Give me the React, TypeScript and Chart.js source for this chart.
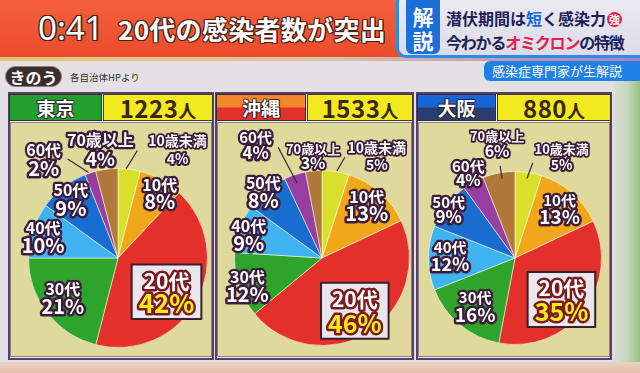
import React, { useEffect, useRef } from 'react';
import { Chart, registerables } from 'chart.js';
Chart.register(...registerables);

// ---- data ----
const categories = ['10歳未満', '10代', '20代', '30代', '40代', '50代', '60代', '70歳以上'];
const tokyoValues = [4, 8, 42, 21, 10, 9, 2, 4];
const okinawaValues = [5, 13, 46, 12, 9, 8, 4, 3];
const osakaValues = [5, 13, 35, 16, 12, 9, 4, 6];
const prefectures = ['東京', '沖縄', '大阪'];
const totals = [1223, 1533, 880];

const sliceColors = ['#d9e02c', '#f0a81a', '#e3302b', '#2ea42b', '#3fb3ef', '#1a6dd0', '#973fa0', '#b0793a'];
const FONT = '"Noto Sans CJK JP", "Noto Sans", sans-serif';

type LabelCfg = {
  f: number; d?: number; ns?: number; ps?: number; gap?: number; box?: boolean;
  leader?: [number, number, number, number];
};

const tokyoLabels: LabelCfg[] = [
  { f: 1.38, d: 21.6, ns: 14, ps: 14, gap: 18, leader: [1.0, -2, 1.22, 3] },
  { f: 0.86, d: 4, gap: 17 },
  { f: 0.66, d: 6, box: true, ns: 21, ps: 26, gap: 21 },
  { f: 0.76, d: 2, gap: 17 },
  { f: 0.87, d: -2 },
  { f: 0.84, d: -1 },
  { f: 1.38, d: -19, leader: [1.01, -1, 1.24, -9] },
  { f: 1.23, d: -2, ps: 19 },
];
const okinawaLabels: LabelCfg[] = [
  { f: 1.32, d: 19.3, ns: 14, ps: 14, gap: 17, leader: [1.01, 0.7, 1.18, 3.8] },
  { f: 0.79, d: -1, gap: 17 },
  { f: 0.71, d: 0.5, box: true, ns: 21, ps: 25, gap: 23 },
  { f: 0.91, d: -2.5 },
  { f: 0.88, d: -2, gap: 17 },
  { f: 1.01, d: -2, gap: 17 },
  { f: 1.5, d: -12.4, ns: 15, ps: 17, gap: 15, leader: [0.9, -0.4, 1.36, -3.6] },
  { f: 1.17, d: 0.4, ns: 13, ps: 16, gap: 13 },
];
const osakaLabels: LabelCfg[] = [
  { f: 1.29, d: 15.7, ns: 13, ps: 14, gap: 16, leader: [0.93, -0.5, 1.12, 1.6] },
  { f: 0.77, d: 0.6, ns: 15, ps: 19, gap: 17 },
  { f: 0.72, d: 4, box: true, ns: 21, ps: 25, gap: 22 },
  { f: 0.72, d: 0.2, ns: 15, ps: 19, gap: 18 },
  { f: 0.75, d: 1.8, ns: 15, ps: 18, gap: 17 },
  { f: 0.95, d: -1.6, ns: 15, ps: 17, gap: 15 },
  { f: 1.12, d: 0, ns: 15, ps: 16, gap: 14 },
  { f: 1.34, d: 1.9, ns: 13, ps: 16, gap: 14, leader: [0.93, 1.6, 1.08, 1.6] },
];

function outlined(ctx: CanvasRenderingContext2D, text: string, x: number, y: number, size: number, fill: string, stroke: string, lw: number) {
  ctx.font = `bold ${size}px ${FONT}`;
  ctx.lineJoin = 'round';
  ctx.lineWidth = lw;
  ctx.strokeStyle = stroke;
  ctx.strokeText(text, x, y);
  ctx.fillStyle = fill;
  ctx.fillText(text, x, y);
}

const pieLabelPlugin = {
  id: 'pieLabels',
  afterDatasetsDraw(chart: any, _args: any, opts: any) {
    const ctx: CanvasRenderingContext2D = chart.ctx;
    const meta = chart.getDatasetMeta(0);
    const values = chart.data.datasets[0].data as number[];
    const names = chart.data.labels as string[];
    const cfgs: LabelCfg[] = opts.labels || [];
    ctx.save();
    ctx.textAlign = 'center';
    ctx.textBaseline = 'middle';
    meta.data.forEach((el: any, i: number) => {
      const p = el.getProps(['x', 'y', 'startAngle', 'endAngle', 'outerRadius'], true);
      const cfg = { ns: 16, ps: 20, gap: 18, d: 0, ...cfgs[i] } as Required<LabelCfg> & LabelCfg;
      const mid = (p.startAngle + p.endAngle) / 2;
      const pt = (f: number, dd: number) => {
        const a = mid + (dd * Math.PI) / 180;
        return [p.x + Math.cos(a) * f * p.outerRadius, p.y + Math.sin(a) * f * p.outerRadius];
      };
      if (cfg.leader) {
        const [a0x, a0y] = pt(cfg.leader[0], cfg.leader[1]);
        const [a1x, a1y] = pt(cfg.leader[2], cfg.leader[3]);
        ctx.beginPath();
        ctx.moveTo(a0x, a0y);
        ctx.lineTo(a1x, a1y);
        ctx.strokeStyle = '#3a2a3a';
        ctx.lineWidth = 1.2;
        ctx.stroke();
      }
      const [lx, ly] = pt(cfg.f, cfg.d);
      const name = names[i];
      const pct = `${values[i]}%`;
      if (cfg.box) {
        ctx.font = `bold ${cfg.ns}px ${FONT}`;
        const w1 = ctx.measureText(name).width;
        ctx.font = `bold ${cfg.ps}px ${FONT}`;
        const w2 = ctx.measureText(pct).width;
        const w = Math.max(w1, w2) + 14;
        const h = cfg.gap + (cfg.ns + cfg.ps) / 2 + 10;
        ctx.fillStyle = '#e9e7ed';
        ctx.fillRect(lx - w / 2, ly - h / 2, w, h);
        ctx.strokeStyle = '#3a1e2c';
        ctx.lineWidth = 2;
        ctx.strokeRect(lx - w / 2, ly - h / 2, w, h);
        outlined(ctx, name, lx, ly - cfg.gap / 2, cfg.ns, '#ffffff', '#7a1c1e', 5);
        outlined(ctx, pct, lx, ly + cfg.gap / 2 + 1, cfg.ps, '#f7ea1c', '#7a1c1e', 5);
      } else {
        const lw = cfg.ns <= 14 ? 3.5 : 4.5;
        outlined(ctx, name, lx, ly - cfg.gap / 2, cfg.ns, '#ffffff', '#3b1c3d', lw);
        outlined(ctx, pct, lx, ly + cfg.gap / 2, cfg.ps, '#ffffff', '#3b1c3d', lw + 0.5);
      }
    });
    ctx.restore();
  },
};

type PieProps = {
  values: number[]; labels: LabelCfg[]; left: number; top: number; width: number; height: number;
  padding: { left: number; right: number; top: number; bottom: number };
};

function PieCanvas({ values, labels, left, top, width, height, padding }: PieProps) {
  const ref = useRef<HTMLCanvasElement>(null);
  useEffect(() => {
    const chart = new Chart(ref.current as HTMLCanvasElement, {
      type: 'pie',
      data: {
        labels: categories,
        datasets: [{
          data: values,
          backgroundColor: sliceColors,
          borderColor: 'rgba(255,255,235,0.55)',
          borderWidth: 1,
          hoverOffset: 0,
        }],
      },
      options: {
        responsive: false,
        animation: false,
        events: [],
        layout: { padding },
        plugins: {
          legend: { display: false },
          tooltip: { enabled: false },
          // @ts-ignore
          pieLabels: { labels },
        },
      },
      plugins: [pieLabelPlugin as any],
    });
    return () => chart.destroy();
  }, []);
  return (
    <canvas ref={ref} width={width} height={height}
      style={{ position: 'absolute', left, top, width, height }} />
  );
}

const abs = (s: React.CSSProperties): React.CSSProperties => ({ position: 'absolute', ...s });
const outline = (c: string, w = 1.5) =>
  [`${w}px 0 ${c}`, `-${w}px 0 ${c}`, `0 ${w}px ${c}`, `0 -${w}px ${c}`, `${w}px ${w}px ${c}`, `-${w}px ${w}px ${c}`, `${w}px -${w}px ${c}`, `-${w}px -${w}px ${c}`].join(',');

type PanelDef = {
  frameLeft: number; frameWidth: number; nameW: number; nameBg: string;
  areaLeft: number; areaWidth: number;
  values: number[]; labels: LabelCfg[];
  padding: { left: number; right: number; top: number; bottom: number };
};

const panels: PanelDef[] = [
  { frameLeft: 8, frameWidth: 206, nameW: 93, nameBg: '#24a02f', areaLeft: 10, areaWidth: 202,
    values: tokyoValues, labels: tokyoLabels, padding: { left: 18, right: 4, top: 46, bottom: 9 } },
  { frameLeft: 215, frameWidth: 199, nameW: 90, nameBg: 'linear-gradient(180deg,#f2862a 0%,#f2862a 48%,#e2302a 52%,#e2302a 100%)', areaLeft: 217, areaWidth: 195,
    values: okinawaValues, labels: okinawaLabels, padding: { left: 17, right: 2, top: 48, bottom: 11 } },
  { frameLeft: 416, frameWidth: 196, nameW: 79, nameBg: 'linear-gradient(180deg,#1565d6 0%,#1565d6 48%,#2b3d70 52%,#2b3d70 100%)', areaLeft: 418, areaWidth: 192,
    values: osakaValues, labels: osakaLabels, padding: { left: 10, right: 8, top: 49, bottom: 12 } },
];

function Panel({ p, idx }: { p: PanelDef; idx: number }) {
  const inner = p.frameWidth - 4;
  return (
    <>
      <div style={abs({ left: p.frameLeft, top: 92, width: p.frameWidth, height: 268, boxSizing: 'border-box',
        border: '2px solid #5b3d6b', background: '#f1edf1' })} />
      <div style={abs({ left: p.frameLeft + 1, top: 94, width: p.nameW, height: 27, background: p.nameBg,
        boxSizing: 'border-box', border: '1px solid #3a2a30', color: '#fff', fontSize: 19, fontWeight: 700,
        display: 'flex', alignItems: 'center', justifyContent: 'center', textShadow: outline('rgba(40,30,40,0.6)', 1) })}>
        {prefectures[idx]}
      </div>
      <div style={abs({ left: p.frameLeft + 2 + p.nameW, top: 94, width: inner - p.nameW + 1, height: 27, background: '#f3e91f',
        boxSizing: 'border-box', border: '1px solid #4a3a2a', color: '#3a2716', fontWeight: 700,
        display: 'flex', alignItems: 'center', justifyContent: 'center' })}>
        <span style={{ fontSize: 24, letterSpacing: 0.5 }}>{totals[idx]}</span>
        <span style={{ fontSize: 18, marginTop: 4 }}>人</span>
      </div>
      <div style={abs({ left: p.areaLeft, top: 122, width: p.areaWidth, height: 235, boxSizing: 'border-box',
        background: '#dfd99b', border: '1px solid #8d7f86' })} />
      <PieCanvas values={p.values} labels={p.labels} left={p.areaLeft} top={122} width={p.areaWidth} height={235} padding={p.padding} />
    </>
  );
}

export default function App() {
  return (
    <div style={{ position: 'fixed', left: 0, top: 0, width: 640, height: 373, overflow: 'hidden',
      background: '#e3e1e3', fontFamily: FONT }}>
      <style>{'body{margin:0}'}</style>
      {/* right green blur */}
      <div style={abs({ left: 612, top: 60, width: 28, height: 313, background: 'linear-gradient(90deg,#dfe0dc 0%,#c9d9c0 50%,#98c486 100%)' })} />
      {/* bottom strip */}
      <div style={abs({ left: 0, top: 362, width: 640, height: 11, background: 'linear-gradient(180deg,#e9d3c6,#e6bca6)' })} />
      {/* top banner */}
      <div style={abs({ left: 0, top: 0, width: 640, height: 59, background: 'linear-gradient(180deg,#f4603c,#ec4b2b)' })} />
      <div style={abs({ left: 0, top: 57, width: 640, height: 4, background: 'linear-gradient(90deg,#e6c170 0%,#dcc3a8 50%,#b27cc0 100%)' })} />
      <div style={abs({ left: 38, top: 6, fontSize: 33, fontWeight: 400, color: '#fff', textShadow: outline('#3a2a2a', 1.3), lineHeight: '44px', fontFamily: '"Noto Sans", ' + FONT })}>0:41</div>
      <div style={abs({ left: 118, top: 7, fontSize: 26, fontWeight: 700, color: '#fff', textShadow: outline('rgba(70,30,20,0.75)', 1.2), lineHeight: '44px', letterSpacing: 0.3 })}>20代の感染者数が突出</div>
      {/* right box */}
      <div style={abs({ left: 396, top: -8, width: 262, height: 66, boxSizing: 'border-box', background: 'linear-gradient(180deg,#ecebf2,#dcdce8)',
        border: '3px solid #2a8ce8', borderRadius: 10 })} />
      <div style={abs({ left: 406, top: 0, width: 34, height: 54, background: '#1a6fd8', borderRadius: '0 0 6px 6px', color: '#fff',
        fontSize: 21, fontWeight: 700, textAlign: 'center', lineHeight: '24px', paddingTop: 4, boxSizing: 'border-box' })}>
        解<br />説
      </div>
      <div style={abs({ left: 446, top: 8, fontSize: 16, fontWeight: 700, color: '#1c2058', lineHeight: '20px', whiteSpace: 'nowrap' })}>
        潜伏期間は<span style={{ color: '#1466d8' }}>短</span>く感染力
        <span style={{ display: 'inline-block', width: 15, height: 15, borderRadius: 8, background: '#e0204c', color: '#fff', fontSize: 11,
          lineHeight: '15px', textAlign: 'center', marginLeft: 1, verticalAlign: 1 }}>強</span>
      </div>
      <div style={abs({ left: 446, top: 32, fontSize: 16, fontWeight: 700, color: '#1c2058', lineHeight: '20px', letterSpacing: -1.2, whiteSpace: 'nowrap' })}>
        今わかる<span style={{ color: '#e2204e' }}>オミクロン</span>の特徴
      </div>
      <div style={abs({ left: 484, top: 61, width: 170, height: 20, background: '#1f80e6', borderRadius: '6px 0 0 6px', color: '#fff',
        fontSize: 13, lineHeight: '20px', paddingLeft: 8, boxSizing: 'border-box', whiteSpace: 'nowrap' })}>
        感染症専門家が生解説
      </div>
      {/* きのう */}
      <div style={abs({ left: 5, top: 66, width: 57, height: 21, borderRadius: 11, background: '#3b2d2d', color: '#fff', fontSize: 16,
        fontWeight: 700, textAlign: 'center', lineHeight: '21px', border: '1px solid #8a7a7a', boxSizing: 'border-box' })}>きのう</div>
      <div style={abs({ left: 70, top: 70, fontSize: 9.5, color: '#333', lineHeight: '14px' })}>各自治体HPより</div>
      {panels.map((p, i) => <Panel key={i} p={p} idx={i} />)}
    </div>
  );
}
